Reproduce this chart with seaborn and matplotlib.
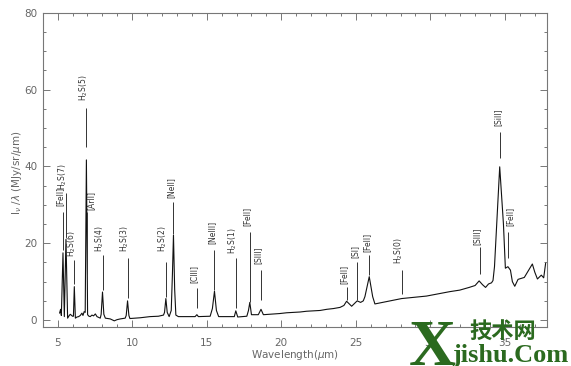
import matplotlib
matplotlib.use("Agg")
import matplotlib.pyplot as plt
import seaborn as sns
import pandas as pd

# spectrum (wavelength in micron, I_nu/lambda)
wave = [5.13, 5.20, 5.25, 5.36, 5.45, 5.56, 5.67, 5.78, 5.85, 6.00, 6.06, 6.12, 6.19,
        6.30, 6.41, 6.52, 6.63, 6.70, 6.78, 6.85, 6.93, 7.01, 7.10, 7.19, 7.30, 7.41,
        7.53, 7.64, 7.86, 7.92, 8.01, 8.10, 8.20, 8.53, 8.80, 8.98, 9.20, 9.53, 9.60,
        9.69, 9.78, 9.85, 10.54, 11.20, 11.76, 12.10, 12.17, 12.26, 12.35, 12.48, 12.62,
        12.70, 12.77, 12.85, 12.93, 13.10, 13.67, 14.22, 14.34, 14.44, 15.23, 15.38,
        15.52, 15.65, 15.80, 16.57, 16.85, 16.95, 17.08, 17.69, 17.80, 17.89, 18.00,
        18.46, 18.64, 18.80, 19.47, 19.90, 20.36, 20.80, 21.26, 21.70, 22.15, 22.60,
        23.05, 23.50, 23.94, 24.20, 24.38, 24.72, 25.09, 25.32, 25.50, 25.61, 25.90,
        26.13, 26.28, 27.06, 28.07, 28.85, 29.74, 30.63, 31.30, 31.97, 32.60, 33.00,
        33.27, 33.50, 33.70, 33.90, 34.10, 34.20, 34.30, 34.65, 34.90, 35.03, 35.20,
        35.37, 35.50, 35.66, 35.88, 36.30, 36.84, 37.00, 37.18, 37.44, 37.60, 37.73]
flux = [1.8, 2.8, 1.2, 17.5, 0.9, 21.0, 0.5, 1.2, 1.5, 1.0, 1.0, 8.7, 0.5,
        0.8, 0.9, 1.2, 1.8, 1.2, 2.2, 2.0, 41.7, 1.4, 1.0, 0.9, 1.3, 1.1,
        1.6, 0.9, 0.5, 1.5, 7.3, 1.5, 0.5, 0.3, -0.2, 0.1, 0.3, 0.5, 1.2,
        5.0, 1.2, 0.4, 0.6, 0.9, 1.0, 1.3, 2.0, 5.6, 2.0, 0.9, 2.5,
        12.0, 22.1, 8.0, 1.3, 0.9, 0.9, 0.9, 1.4, 0.9, 1.0, 3.0,
        7.5, 2.5, 0.9, 0.9, 0.9, 2.4, 0.8, 1.0, 2.5, 4.6, 1.4,
        1.4, 2.8, 1.4, 1.6, 1.7, 1.9, 2.0, 2.1, 2.3, 2.4, 2.5,
        2.8, 3.0, 3.3, 3.8, 4.9, 3.6, 5.0, 4.6, 5.0, 6.1, 11.3,
        6.1, 4.2, 4.8, 5.6, 5.9, 6.25, 6.9, 7.4, 7.8, 8.5, 9.0,
        10.2, 9.2, 8.5, 9.4, 9.7, 10.3, 13.9, 39.9, 25.0, 13.5, 13.9,
        13.0, 10.0, 8.8, 10.6, 11.1, 14.6, 12.5, 10.7, 11.7, 11.0, 14.8]

# line identifications
line_names = ['[FeII]', 'H$_2$S(7)', 'H$_2$S(6)', 'H$_2$S(5)', '[ArII]', 'H$_2$S(4)',
              'H$_2$S(3)', 'H$_2$S(2)', '[NeII]', '[ClII]', '[NeIII]', 'H$_2$S(1)',
              '[FeII]', '[SIII]', '[FeII]', '[SI]', '[FeII]', 'H$_2$S(0)', '[SIII]',
              '[SiII]', '[FeII]']
line_x = [5.36, 5.56, 6.12, 6.92, 6.99, 8.01, 9.69, 12.26, 12.77, 14.34, 15.52, 16.95,
          17.89, 18.64, 24.38, 25.09, 25.90, 28.07, 33.30, 34.65, 35.20]
text_x = [5.30, 5.56, 6.12, 6.92, 7.42, 8.01, 9.69, 12.26, 12.77, 14.34, 15.52, 16.95,
          17.89, 18.64, 24.38, 25.09, 25.90, 28.07, 33.30, 34.72, 35.50]
line_lo = [18.2, 21.5, 9.4, 45.1, 12.0, 7.8, 5.7, 6.0, 22.4, 3.1, 7.8, 3.1,
           4.7, 5.2, 5.2, 5.2, 11.7, 6.8, 12.0, 42.2, 16.1]
line_hi = [28.1, 33.1, 15.6, 55.2, 28.1, 16.9, 16.1, 15.1, 30.7, 8.3, 18.2, 16.1,
           22.9, 13.0, 8.6, 15.1, 16.9, 13.0, 19.0, 49.0, 22.9]
text_y = [29.7, 33.9, 16.4, 57.0, 28.6, 17.7, 17.7, 17.7, 31.8, 9.6, 19.8, 17.2,
          24.5, 14.6, 9.4, 16.1, 17.7, 14.6, 19.5, 50.5, 24.5]

df = pd.DataFrame({'wave': wave, 'flux': flux})

sns.set_style('ticks')
plt.rcParams['font.family'] = ['DejaVu Sans']

fig = plt.figure(figsize=(5.71, 3.66), dpi=100)
ax = fig.add_axes([0.0748, 0.1066, 0.8826, 0.8584])

sns.lineplot(data=df, x='wave', y='flux', estimator=None, sort=False,
             color='#111111', linewidth=0.8, ax=ax)

ax.vlines(line_x, line_lo, line_hi, color='#333333', linewidth=0.7)
for name, tx, ty in zip(line_names, text_x, text_y):
    ax.text(tx, ty, name, rotation=90, rotation_mode='anchor', ha='left',
            va='baseline', fontsize=5.5, color='#333333')

ax.set_xlim(4.0, 37.8)
ax.set_ylim(-1.8, 80)
ax.set_xticks([5, 10, 15, 20, 25, 30, 35])
ax.set_xticks(range(5, 38), minor=True)
ax.set_yticks([0, 20, 40, 60, 80])
ax.set_yticks(range(0, 81, 5), minor=True)

ax.tick_params(which='both', direction='in', top=True, right=True,
               color='#777777', width=0.7)
ax.tick_params(which='major', length=5, labelsize=7.5, labelcolor='#666666')
ax.tick_params(which='minor', length=2.5)
ax.tick_params(axis='x', pad=8)
ax.tick_params(axis='y', pad=4)
for s in ax.spines.values():
    s.set_color('#777777')
    s.set_linewidth(0.8)

ax.set_xlabel('Wavelength($\\mu$m)', fontsize=7.5, color='#666666')
ax.set_ylabel('I$_\\nu$ /$\\lambda$ (MJy/sr/$\\mu$m)', fontsize=7.5, color='#666666')
ax.xaxis.set_label_coords(0.5, -0.067)
ax.yaxis.set_label_coords(-0.037, 0.49)

# site watermark
green = '#2b6a1f'
fig.text(0.716, 0.003, 'X', fontsize=47, family='Liberation Serif', weight='bold',
         color=green, va='baseline', zorder=10)
fig.text(0.792, 0.012, 'jishu.Com', fontsize=19, family='Liberation Serif',
         weight='bold', color=green, va='baseline', zorder=10)
fig.text(0.822, 0.060, '技术网', fontsize=16, family=['Noto Sans CJK SC', 'DejaVu Sans'],
         weight='bold', color=green, va='bottom', zorder=10)

fig.savefig('out.png', dpi=100)
